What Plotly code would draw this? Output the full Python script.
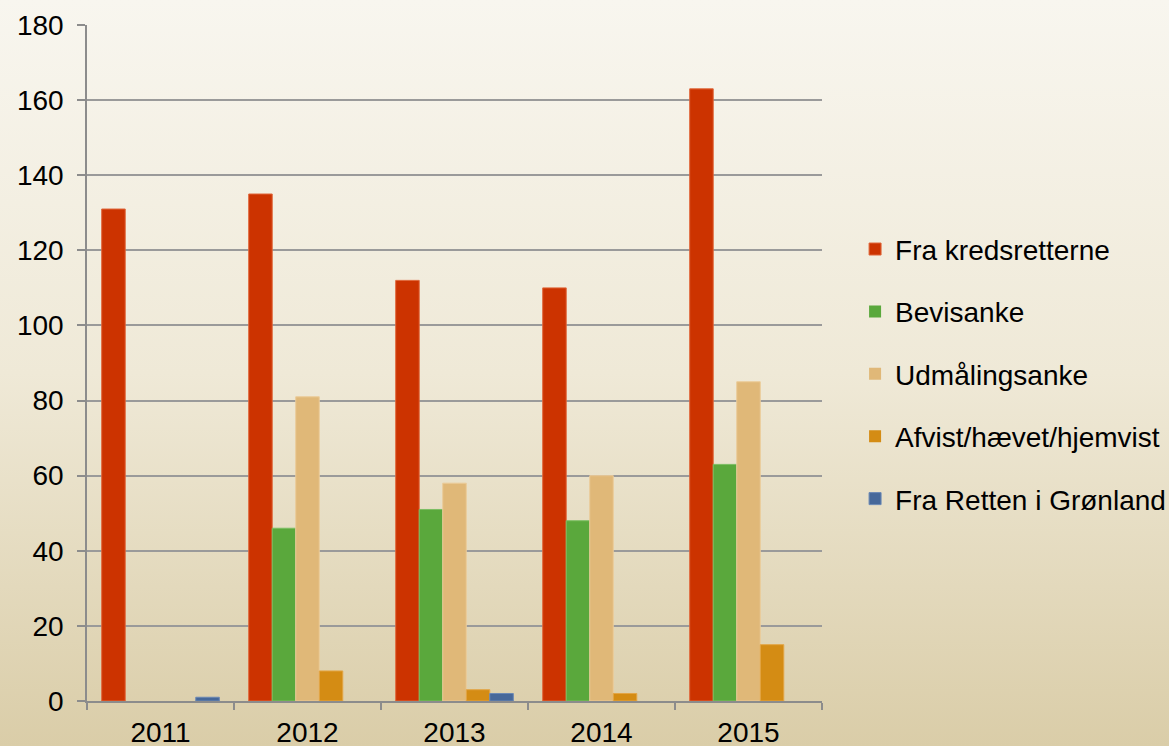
import base64
import plotly.graph_objects as go

years = ["2011", "2012", "2013", "2014", "2015"]
series_names = ["Fra kredsretterne", "Bevisanke", "Udmålingsanke",
                "Afvist/hævet/hjemvist", "Fra Retten i Grønland"]
fra_kredsretterne = [131, 135, 112, 110, 163]
bevisanke = [0, 46, 51, 48, 63]
udmaalingsanke = [0, 81, 58, 60, 85]
afvist = [0, 8, 3, 2, 15]
groenland = [1, 0, 2, 0, 0]
y_ticks = [0, 20, 40, 60, 80, 100, 120, 140, 160, 180]

values = [fra_kredsretterne, bevisanke, udmaalingsanke, afvist, groenland]
colors = ["#CC3300", "#5AA83C", "#E0B878", "#D48C14", "#46689A"]
edges = ["#E0673A", "#7BBE62", "#EBCB98", "#E3A545", "#6A88B5"]

W, H = 1169, 746
ml, mr, mt, mb = 87, 347, 25, 45
pw, ph = W - ml - mr, H - mt - mb

svg = f'''<svg xmlns="http://www.w3.org/2000/svg" width="{W}" height="{H}" preserveAspectRatio="none">
<defs><linearGradient id="g" x1="0" y1="0" x2="0" y2="1">
<stop offset="0" stop-color="#F8F6EF"/>
<stop offset="0.5" stop-color="#EFE9D7"/>
<stop offset="1" stop-color="#DACDA8"/>
</linearGradient></defs>
<rect width="{W}" height="{H}" fill="url(#g)"/></svg>'''
src = "data:image/svg+xml;base64," + base64.b64encode(svg.encode()).decode()

fig = go.Figure()
for i, (name, vals) in enumerate(zip(series_names, values)):
    fig.add_trace(go.Bar(
        x=years, y=vals, name=name, legendgroup=f"g{i}",
        marker=dict(color=colors[i],
                    line=dict(color=edges[i], width=[1 if v > 0 else 0 for v in vals])),
    ))

fig.add_layout_image(dict(
    source=src, xref="paper", yref="paper",
    x=-ml / pw, y=1 + mt / ph, sizex=W / pw, sizey=H / ph,
    xanchor="left", yanchor="top", sizing="stretch", layer="below",
))

fig.update_layout(
    width=W, height=H,
    margin=dict(l=ml, r=mr, t=mt, b=mb, autoexpand=False),
    paper_bgcolor="#EFE9D7",
    plot_bgcolor="rgba(0,0,0,0)",
    barmode="group", bargap=0.2, bargroupgap=0,
    font=dict(family="Liberation Sans, Arial, sans-serif", size=28, color="#000000"),
    showlegend=True,
    legend=dict(
        x=1.045, y=0.484, xanchor="left", yanchor="middle",
        font=dict(size=28), traceorder="grouped", tracegroupgap=23,
        bgcolor="rgba(0,0,0,0)", itemwidth=30,
    ),
    xaxis=dict(
        type="category", showgrid=False, showline=True, linecolor="#8C8C8C",
        linewidth=1.5, ticks="outside", tickson="boundaries", ticklen=7,
        tickcolor="#8C8C8C", tickwidth=1.5, ticklabelstandoff=6,
        tickfont=dict(size=28), automargin=False,
    ),
    yaxis=dict(
        range=[0, 180], tickvals=y_ticks, showgrid=True, gridcolor="#9A9A9A",
        gridwidth=1.5, showline=True, linecolor="#8C8C8C", linewidth=1.5,
        ticks="outside", ticklen=8, tickcolor="#8C8C8C", tickwidth=1.5,
        ticklabelstandoff=8, tickfont=dict(size=28), zeroline=False,
        automargin=False,
    ),
)

fig.write_html("out.html", config={"displayModeBar": False},
               post_script="document.body.style.margin='0px';")
